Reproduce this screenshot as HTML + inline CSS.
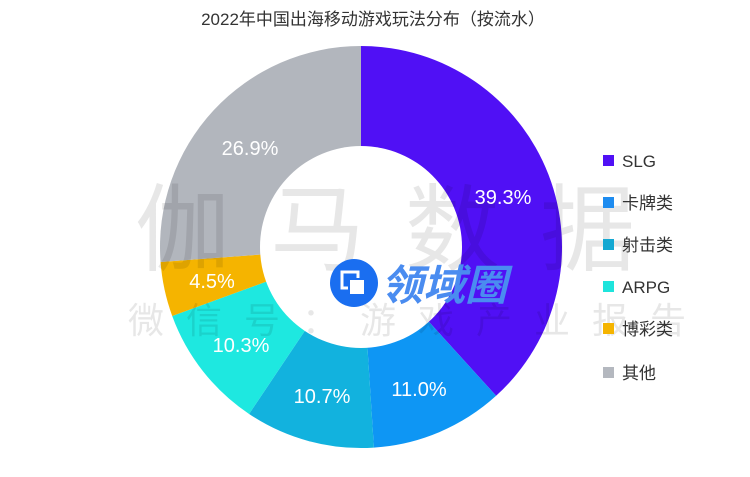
<!DOCTYPE html>
<html><head><meta charset="utf-8"><style>
body{margin:0;background:#fff;width:750px;height:472px;overflow:hidden;font-family:"Liberation Sans","Noto Sans CJK SC",sans-serif;}
</style></head><body>
<svg id="s" width="750" height="472" xmlns="http://www.w3.org/2000/svg">
<text x="373" y="25" text-anchor="middle" font-size="17" fill="#333" font-family="Liberation Sans, Noto Sans CJK SC, sans-serif">2022年中国出海移动游戏玩法分布（按流水）</text>
<g id="pie"></g>
<circle cx="361" cy="247" r="101" fill="#fff"/>
<g fill="#000" opacity="0.09" font-family="Noto Sans CJK SC, sans-serif">
<text x="135" y="263" font-size="95" letter-spacing="40">伽马数据</text>
<text x="128" y="333" font-size="36" letter-spacing="22">微信号：游戏产业报告</text>
</g>
<g font-size="20" fill="#fff" text-anchor="middle" font-family="Liberation Sans, sans-serif">
<text x="250" y="155">26.9%</text>
<text x="503" y="204">39.3%</text>
<text x="212" y="288">4.5%</text>
<text x="241" y="352">10.3%</text>
<text x="322" y="403">10.7%</text>
<text x="419" y="396">11.0%</text>
</g>
<circle cx="354" cy="283" r="24" fill="#1a6ef0"/>
<rect x="342" y="272" width="16" height="16" fill="none" stroke="#fff" stroke-width="3"/>
<rect x="349" y="279" width="16" height="16" fill="#fff" stroke="#1a6ef0" stroke-width="2"/>
<text x="381" y="300" font-size="42" font-weight="bold" font-style="italic" fill="#4a8cf0" font-family="Noto Sans CJK SC, sans-serif">领域圈</text>
<g font-size="17" fill="#333" font-family="Liberation Sans, Noto Sans CJK SC, sans-serif">
<rect x="603" y="155" width="11" height="11" fill="#5010f5"/><text x="622" y="167">SLG</text>
<rect x="603" y="197" width="11" height="11" fill="#1e8cf0"/><text x="622" y="209">卡牌类</text>
<rect x="603" y="239" width="11" height="11" fill="#14a8d2"/><text x="622" y="251">射击类</text>
<rect x="603" y="281" width="11" height="11" fill="#1ee4dc"/><text x="622" y="293">ARPG</text>
<rect x="603" y="323" width="11" height="11" fill="#f5b400"/><text x="622" y="335">博彩类</text>
<rect x="603" y="367" width="11" height="11" fill="#b4b8bf"/><text x="622" y="379">其他</text>
</g>
</svg>
<script>
var d=[[39.3,"#5010f5"],[11.0,"#0e96f4"],[10.7,"#12b2de"],[10.3,"#1ee8e0"],[4.5,"#f5b400"],[26.9,"#b2b6bd"]];
var tot=d.reduce(function(a,b){return a+b[0]},0),cx=361,cy=247,R=201,a=-Math.PI/2,g=document.getElementById("pie"),h="";
d.forEach(function(e){var b=a+e[0]/tot*2*Math.PI;var x1=cx+R*Math.cos(a),y1=cy+R*Math.sin(a),x2=cx+R*Math.cos(b),y2=cy+R*Math.sin(b);
h+='<path d="M'+cx+','+cy+'L'+x1+','+y1+'A'+R+','+R+' 0 '+((b-a)>Math.PI?1:0)+' 1 '+x2+','+y2+'Z" fill="'+e[1]+'"/>';a=b;});
g.innerHTML=h;
</script>
</body></html>
